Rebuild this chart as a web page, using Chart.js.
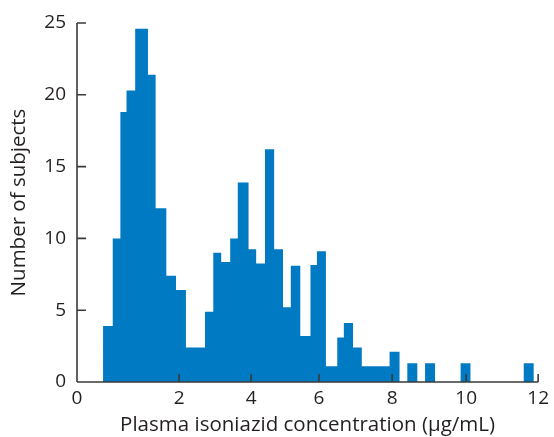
<!DOCTYPE html>
<html>
<head>
<meta charset="utf-8">
<script src="https://cdn.jsdelivr.net/npm/chart.js@4.4.0/dist/chart.umd.min.js"></script>
<style>
  body { margin: 0; background: #fff; }
</style>
</head>
<body>
<canvas id="histo" width="554" height="437"></canvas>
<script>
// Histogram: left edge of each bin and the bar height
var binEdges = [0.51, 0.70, 0.85, 0.97, 1.14, 1.39, 1.54, 1.75, 1.94, 2.19,
                2.72, 2.95, 3.17, 3.42, 3.63, 3.93, 4.15, 4.41, 4.68, 4.94,
                5.17, 5.45, 5.75, 5.94, 6.19, 6.50, 6.68, 6.93, 7.17, 7.93,
                8.20, 8.41, 8.68, 8.89, 9.16, 9.85, 10.12, 11.60, 11.88];
var subjectCounts = [3.9, 10.0, 18.8, 20.3, 24.6, 21.4, 12.1, 7.4, 6.4, 2.4,
                     4.9, 9.0, 8.35, 10.0, 13.9, 9.25, 8.25, 16.2, 9.25, 5.2,
                     8.1, 3.2, 8.15, 9.1, 1.1, 3.1, 4.1, 2.4, 1.1, 2.1,
                     0, 1.3, 0, 1.3, 0, 1.3, 0, 1.3];
var xTickValues = [0, 2, 4, 6, 8, 10, 12];
var yTickValues = [0, 5, 10, 15, 20, 25];

// the printed x axis is not evenly spaced, so use a piecewise linear scale
class KnotScale extends Chart.LinearScale {
  static id = 'knot';
  static defaults = Chart.LinearScale.defaults;

  getPixelForValue(value) {
    if (value === null || value === undefined || isNaN(value)) return NaN;
    var vals = this.options.knotValues, decs = this.options.knotDecimals;
    var i = 0;
    while (i < vals.length - 2 && value > vals[i + 1]) i++;
    var t = (value - vals[i]) / (vals[i + 1] - vals[i]);
    return this.getPixelForDecimal(decs[i] + t * (decs[i + 1] - decs[i]));
  }

  getValueForPixel(pixel) {
    var d = this.getDecimalForPixel(pixel);
    var vals = this.options.knotValues, decs = this.options.knotDecimals;
    var i = 0;
    while (i < decs.length - 2 && d > decs[i + 1]) i++;
    var t = (d - decs[i]) / (decs[i + 1] - decs[i]);
    return vals[i] + t * (vals[i + 1] - vals[i]);
  }
}
Chart.register(KnotScale);

var points = binEdges.map(function(x, i) {
  return { x: x, y: i < subjectCounts.length ? subjectCounts[i] : 0 };
});

var axisColor = '#3a3a3a';
var textColor = '#231f20';
var fontFamily = '"Open Sans", "Noto Sans", sans-serif';

// axis lines and inward tick marks, drawn over the bars
var inwardAxes = {
  id: 'inwardAxes',
  afterDatasetsDraw: function(chart) {
    var ctx = chart.ctx;
    var xs = chart.scales.x, ys = chart.scales.y;
    var y0 = ys.getPixelForValue(0);
    var x0 = xs.getPixelForValue(0);
    ctx.save();
    ctx.strokeStyle = axisColor;
    ctx.lineWidth = 1.6;
    ctx.beginPath();
    ctx.moveTo(x0, y0);
    ctx.lineTo(xs.getPixelForValue(12), y0);
    ctx.moveTo(x0, y0);
    ctx.lineTo(x0, ys.getPixelForValue(25));
    xs.ticks.forEach(function(t) {
      if (t.value === 0) return;
      var px = xs.getPixelForValue(t.value);
      ctx.moveTo(px, y0);
      ctx.lineTo(px, y0 - 8);
    });
    ys.ticks.forEach(function(t) {
      if (t.value === 0) return;
      var py = ys.getPixelForValue(t.value);
      ctx.moveTo(x0, py);
      ctx.lineTo(x0 + 9, py);
    });
    ctx.stroke();
    ctx.restore();
  }
};

var chart = new Chart(document.getElementById('histo'), {
  type: 'line',
  data: {
    datasets: [{
      label: 'Subjects',
      data: points,
      stepped: 'before',
      fill: 'origin',
      backgroundColor: '#007ac3',
      borderColor: 'rgba(0,0,0,0)',
      borderWidth: 0,
      pointRadius: 0,
      pointHitRadius: 0
    }]
  },
  options: {
    responsive: false,
    animation: false,
    layout: { padding: { top: 23, right: 9, left: 0, bottom: 0 } },
    plugins: { legend: { display: false }, tooltip: { enabled: false } },
    scales: {
      x: {
        type: 'knot',
        min: 0,
        max: 12,
        knotValues: xTickValues,
        knotDecimals: [0, 0.2214, 0.3775, 0.5247, 0.6834, 0.8439, 1],
        afterBuildTicks: function(scale) {
          scale.ticks = xTickValues.map(function(v) { return { value: v }; });
        },
        afterFit: function(scale) { scale.height = 55; },
        grid: { display: false, drawTicks: false },
        border: { display: false },
        ticks: {
          color: textColor,
          padding: 5,
          maxRotation: 0,
          autoSkip: false,
          font: { family: fontFamily, size: 19 }
        },
        title: {
          display: true,
          text: 'Plasma isoniazid concentration (μg/mL)',
          color: textColor,
          padding: { top: 0, bottom: 0 },
          font: { family: fontFamily, size: 20.5 }
        }
      },
      y: {
        min: 0,
        max: 25,
        afterBuildTicks: function(scale) {
          scale.ticks = yTickValues.map(function(v) { return { value: v }; });
        },
        afterFit: function(scale) { scale.width = 77; },
        grid: { display: false, drawTicks: false },
        border: { display: false },
        ticks: {
          color: textColor,
          padding: 11,
          font: { family: fontFamily, size: 19 }
        },
        title: {
          display: true,
          text: 'Number of subjects',
          color: textColor,
          padding: { top: 7, bottom: 4 },
          font: { family: fontFamily, size: 20.5 }
        }
      }
    }
  },
  plugins: [inwardAxes]
});
</script>
</body>
</html>
